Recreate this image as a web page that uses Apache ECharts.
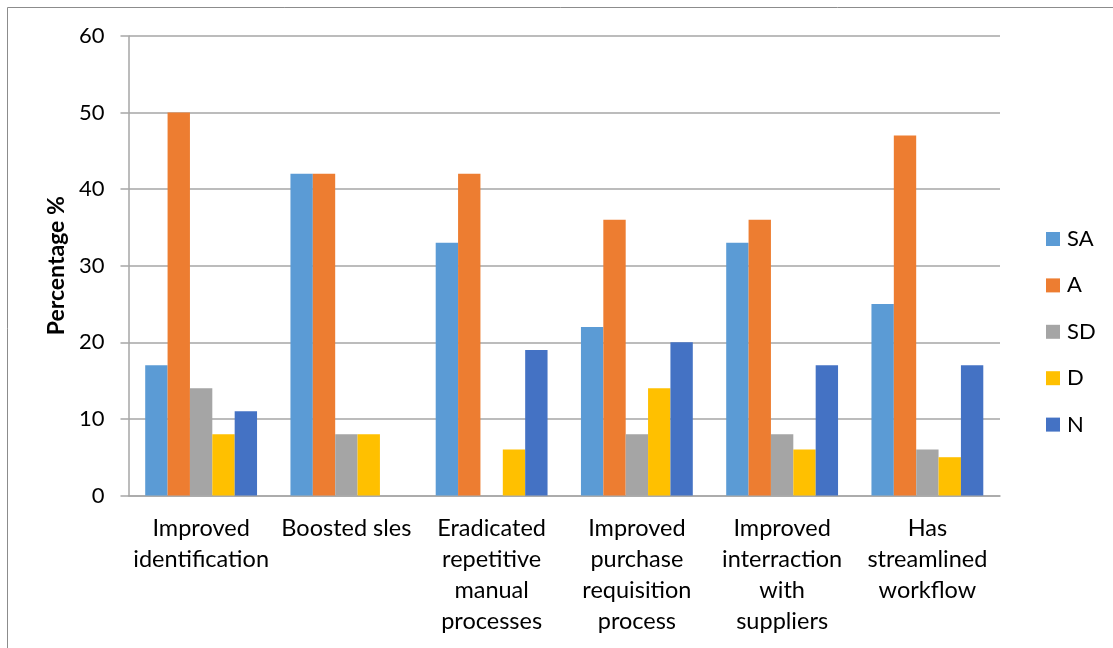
<!DOCTYPE html>
<html>
<head>
<meta charset="utf-8">
<script src="https://cdn.jsdelivr.net/npm/echarts@6/dist/echarts.min.js"></script>
<style>
  html, body { margin: 0; padding: 0; background: #ffffff; }
  #chart { width: 1113px; height: 648px; }
</style>
</head>
<body>
<div id="chart"></div>
<script>
// Survey outcome categories (line breaks as they wrap under the axis)
const categories = [
  'Improved\nidentification',
  'Boosted sles',
  'Eradicated\nrepetitive\nmanual\nprocesses',
  'Improved\npurchase\nrequisition\nprocess',
  'Improved\ninterraction\nwith\nsuppliers',
  'Has\nstreamlined\nworkflow'
];

// Response shares in percent per category
const saValues = [17, 42, 33, 22, 33, 25];
const aValues  = [50, 42, 42, 36, 36, 47];
const sdValues = [14, 8, null, 8, 8, 6];
const dValues  = [8, 8, 6, 14, 6, 5];
const nValues  = [11, null, 19, 20, 17, 17];

const seriesNames = ['SA', 'A', 'SD', 'D', 'N'];
const seriesColors = ['#5B9BD5', '#ED7D31', '#A5A5A5', '#FFC000', '#4472C4'];
const seriesValues = [saValues, aValues, sdValues, dValues, nValues];

const yTicks = { min: 0, max: 60, interval: 10 };

const FONT = 'Lato, "Open Sans", sans-serif';

const chart = echarts.init(document.getElementById('chart'), null, { renderer: 'canvas' });

chart.setOption({
  animation: false,
  backgroundColor: '#ffffff',
  textStyle: { fontFamily: FONT, color: '#000' },
  graphic: [{
    type: 'rect',
    shape: { x: 7.5, y: 7.5, width: 1140, height: 700 },
    style: { fill: 'none', stroke: '#8c8c8c', lineWidth: 1 },
    silent: true
  }],
  grid: { left: 128.5, right: 113, top: 36, bottom: 152.5, containLabel: false },
  legend: {
    orient: 'vertical',
    left: 1041,
    top: 223,
    itemWidth: 14,
    itemHeight: 14,
    itemGap: 24.4,
    icon: 'rect',
    textStyle: { fontFamily: FONT, fontSize: 22, color: '#000', padding: [0, 0, 0, 2] },
    data: seriesNames
  },
  xAxis: {
    type: 'category',
    data: categories,
    axisTick: { show: false },
    axisLine: { show: true, lineStyle: { color: '#a6a6a6', width: 1.5 } },
    axisLabel: {
      interval: 0,
      margin: 17,
      fontFamily: FONT,
      fontSize: 23.5,
      lineHeight: 31,
      color: '#000',
      align: 'center'
    }
  },
  yAxis: {
    type: 'value',
    min: yTicks.min,
    max: yTicks.max,
    interval: yTicks.interval,
    name: 'Percentage %',
    nameLocation: 'middle',
    nameGap: 59,
    nameRotate: 90,
    nameTextStyle: { fontFamily: FONT, fontSize: 23, fontWeight: 'bold', color: '#000' },
    axisLine: { show: true, lineStyle: { color: '#a6a6a6', width: 1.5 } },
    axisTick: { show: true, length: 8, lineStyle: { color: '#a6a6a6', width: 1.5 } },
    splitLine: { show: true, lineStyle: { color: '#a6a6a6', width: 1.5 } },
    axisLabel: { fontFamily: FONT, fontSize: 22, color: '#000', margin: 24 }
  },
  series: seriesNames.map((name, i) => ({
    name: name,
    type: 'bar',
    data: seriesValues[i],
    barGap: '0%',
    barCategoryGap: '23%',
    itemStyle: { color: seriesColors[i] }
  }))
});
</script>
</body>
</html>
